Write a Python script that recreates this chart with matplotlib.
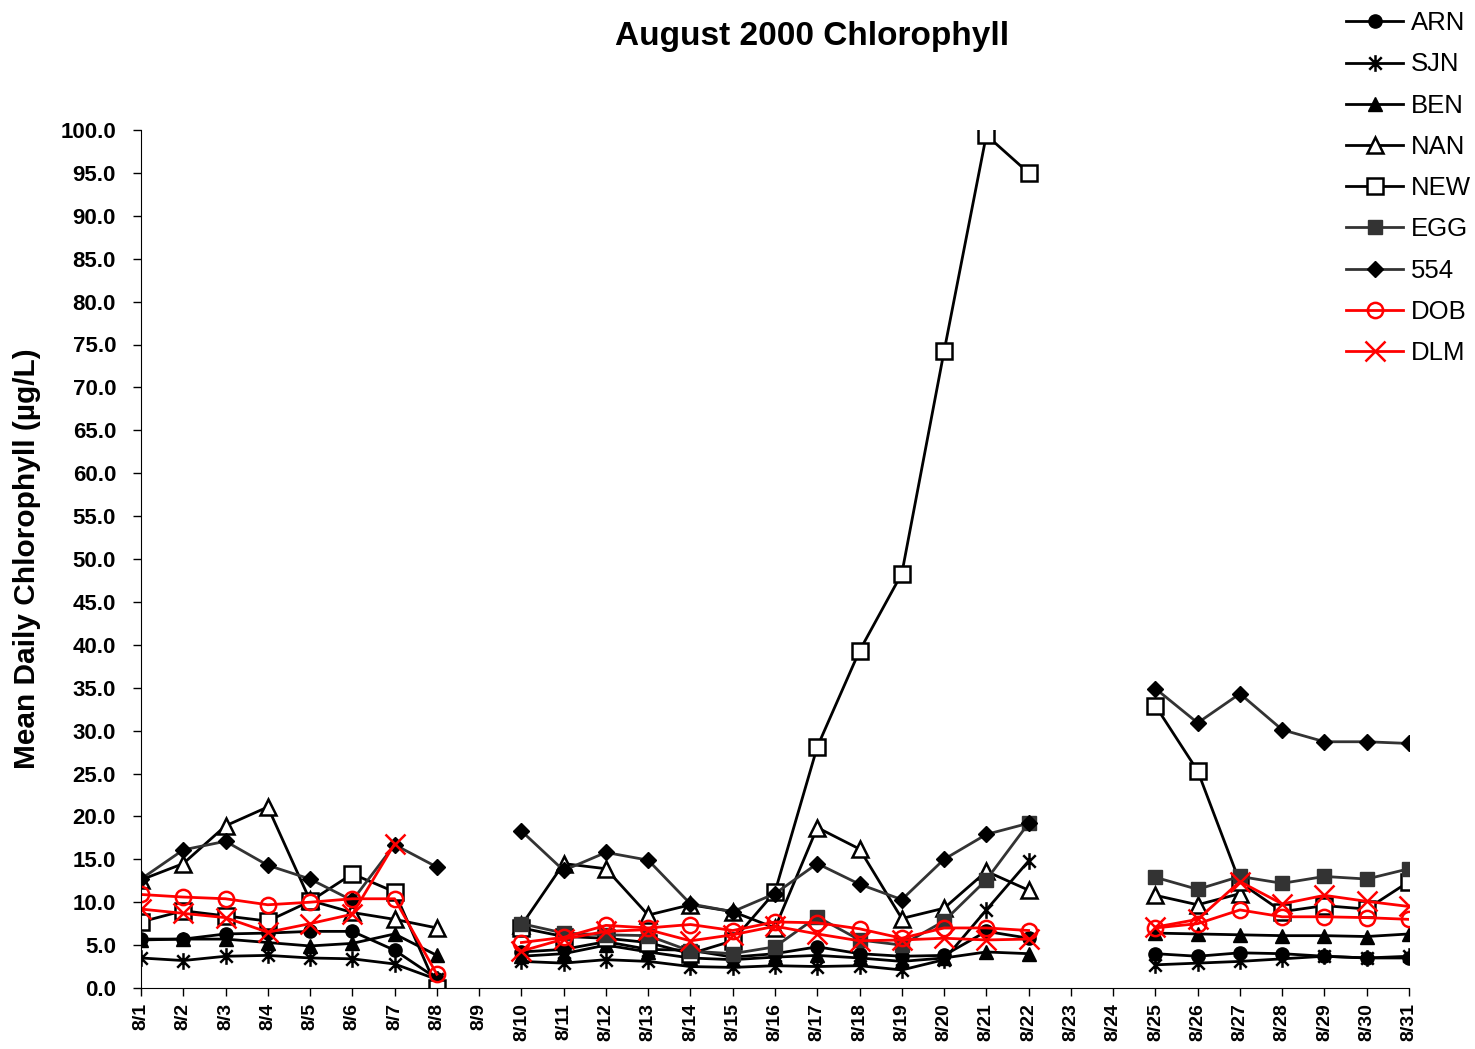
import numpy as np
import matplotlib
matplotlib.use("Agg")
import matplotlib.pyplot as plt
from matplotlib.path import Path

plt.rcParams['font.family'] = ['Liberation Sans', 'DejaVu Sans']

# dates of August 2000 (x axis categories)
dates = ['8/%d' % d for d in range(1, 32)]

N = None
# mean daily chlorophyll (ug/L) per station, None = no data
arn = [5.7, 5.7, 6.3, 6.4, 6.6, 6.6, 4.4, 1.1, N,
       4.2, 4.5, 5.4, 4.5, 4.4, 3.6, 4.0, 4.8, 4.0, 3.7, 3.8, 6.6, 5.8, N, N,
       4.0, 3.7, 4.1, 4.0, 3.7, 3.5, 3.5]
sjn = [3.5, 3.2, 3.7, 3.8, 3.5, 3.4, 2.8, 1.0, N,
       3.1, 2.9, 3.3, 3.1, 2.5, 2.4, 2.6, 2.5, 2.6, 2.1, 3.3, 9.1, 14.8, N, N,
       2.7, 2.9, 3.1, 3.4, 3.7, 3.5, 3.7]
ben = [5.6, 5.7, 5.7, 5.3, 4.9, 5.2, 6.3, 3.8, N,
       3.7, 4.0, 5.0, 4.2, 3.5, 3.3, 3.6, 3.8, 3.5, 3.1, 3.5, 4.2, 4.0, N, N,
       6.4, 6.3, 6.2, 6.1, 6.1, 6.0, 6.3]
nan_ = [12.6, 14.5, 18.9, 21.1, 10.2, 8.8, 8.0, 7.0, N,
        7.3, 14.5, 13.9, 8.5, 9.7, 8.9, 7.0, 18.7, 16.2, 8.1, 9.3, 13.6, 11.4, N, N,
        10.8, 9.7, 11.0, N, N, N, N]
new = [7.7, 9.0, 8.4, 7.8, 10.1, 13.3, 11.2, 0.0, N,
       7.0, 6.0, 5.8, 5.3, 4.0, 5.5, 11.2, 28.1, 39.3, 48.3, 74.2, 99.4, 95.0, N, N,
       32.9, 25.3, 12.3, 8.9, 9.6, 9.2, 12.4]
egg = [N, N, N, N, N, N, N, N, N,
       7.5, 6.4, 6.2, 6.1, 4.3, 4.0, 4.8, 8.3, 5.6, 5.0, 7.8, 12.6, 19.2, N, N,
       12.9, 11.5, 13.0, 12.2, 13.0, 12.7, 13.9]
s554 = [12.7, 16.1, 17.1, 14.3, 12.7, 10.2, 16.7, 14.1, N,
        18.3, 13.7, 15.8, 14.9, 9.8, 8.9, 11.0, 14.5, 12.1, 10.3, 15.0, 17.9, 19.2, N, N,
        34.9, 30.9, 34.3, 30.1, 28.7, 28.7, 28.5]
dob = [10.9, 10.6, 10.4, 9.7, 10.0, 10.4, 10.4, 1.6, N,
       5.3, 5.9, 7.3, 7.0, 7.4, 6.7, 7.7, 7.6, 6.9, 5.8, 7.0, 7.0, 6.7, N, N,
       7.0, 7.5, 9.1, 8.3, 8.3, 8.2, 8.0]
dlm = [9.2, 8.7, 8.2, 6.5, 7.5, 8.6, 16.8, N, N,
       4.3, 5.7, 6.6, 6.8, 5.5, 6.2, 7.2, 6.3, 5.5, 5.6, 5.8, 5.6, 5.7, N, N,
       7.1, 8.0, 12.4, 9.8, 10.8, 10.1, 9.5]

# excel style asterisk: vertical bar + X
star = Path([(0, -1), (0, 1), (-0.75, -0.75), (0.75, 0.75), (-0.75, 0.75), (0.75, -0.75)],
            [Path.MOVETO, Path.LINETO, Path.MOVETO, Path.LINETO, Path.MOVETO, Path.LINETO])

series = [
    ('ARN', arn, dict(color='black', marker='o', mfc='black', ms=9.5)),
    ('SJN', sjn, dict(color='black', marker=star, ms=12, mew=1.8)),
    ('BEN', ben, dict(color='black', marker='^', mfc='black', ms=10)),
    ('NAN', nan_, dict(color='black', marker='^', mfc='white', ms=11, mew=1.8)),
    ('NEW', new, dict(color='black', marker='s', mfc='white', ms=11, mew=1.8)),
    ('EGG', egg, dict(color='#333333', marker='s', mfc='#333333', mec='#333333', ms=10)),
    ('554', s554, dict(color='#333333', marker='D', mfc='black', mec='black', ms=8.5)),
    ('DOB', dob, dict(color='red', marker='o', mfc='none', ms=11, mew=1.8)),
    ('DLM', dlm, dict(color='red', marker='x', ms=14, mew=1.8)),
]

fig = plt.figure(figsize=(14.75, 10.49), dpi=100)
ax = fig.add_axes([141/1475, 1-988/1049, (1409-141)/1475, (988-130)/1049])

x = np.arange(len(dates))
for name, vals, style in series:
    y = np.array([np.nan if v is None else v for v in vals])
    ax.plot(x, y, label=name, lw=2.0, **style)

ax.set_xlim(0, len(dates)-1)
ax.set_ylim(0, 100)
ax.set_yticks(np.arange(0, 101, 5))
ax.set_yticklabels(['%.1f' % v for v in np.arange(0, 101, 5)], fontsize=16, fontweight='bold')
ax.set_xticks(x)
ax.set_xticklabels(dates, rotation=90, fontsize=14, fontweight='bold')
ax.tick_params(axis='y', direction='out', length=6, width=1, pad=12)
ax.tick_params(axis='x', direction='out', length=6, width=1, pad=5)
ax.spines['top'].set_visible(False)
ax.spines['right'].set_visible(False)

ax.set_ylabel('Mean Daily Chlorophyll (µg/L)', fontsize=21.5, fontweight='bold')
ax.yaxis.set_label_coords((41-141)/1268, 0.5)
fig.text(812/1475, 1-36/1049, 'August 2000 Chlorophyll', ha='center', va='center',
         fontsize=24, fontweight='bold')

fig.legend(loc='upper left', bbox_to_anchor=(1336/1475, 1-1/1049), frameon=False,
           fontsize=18.5, handlelength=2.2, handletextpad=0.3, labelspacing=0.67,
           borderaxespad=0)

fig.savefig('out.png', dpi=100)
